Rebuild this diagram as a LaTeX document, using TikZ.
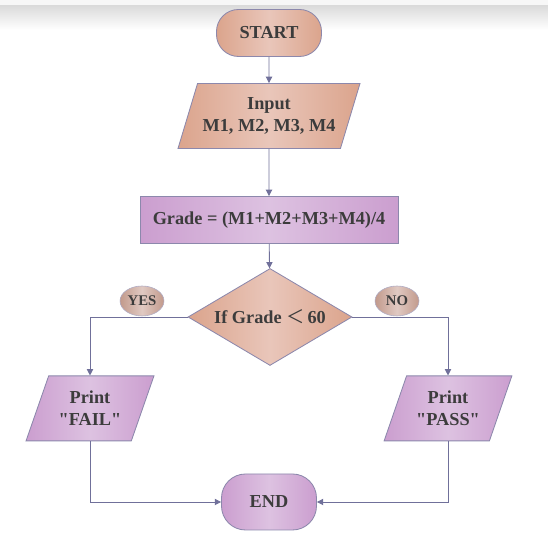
\documentclass[tikz,border=0pt]{standalone}
\usepackage{fontspec}
\newfontfamily\chartfont{Liberation Serif}
\newfontfamily\cjk{Noto Sans CJK SC}
\usepackage{tikz}
\usetikzlibrary{shapes,arrows,positioning,calc,arrows.meta}
\definecolor{peach}{HTML}{DBA48C}
\definecolor{peachlight}{HTML}{E9C6BA}
\definecolor{lilac}{HTML}{CB9ECF}
\definecolor{lilaclight}{HTML}{DDC2E1}
\definecolor{tagbrown}{HTML}{C29A8C}
\definecolor{taglight}{HTML}{E0C9C2}
\definecolor{edgeline}{HTML}{8C88AC}
\definecolor{flowline}{HTML}{70709A}
\definecolor{textgrey}{HTML}{3C3C3C}

\begin{document}
\begin{tikzpicture}[
    font=\chartfont\fontsize{13}{16}\selectfont\bfseries, text=textgrey,
    peachfill/.style={left color=peach, right color=peach, middle color=peachlight},
    lilacfill/.style={left color=lilac, right color=lilac, middle color=lilaclight},
    terminal/.style={rectangle, draw=edgeline, line width=0.6pt},
    io/.style={trapezium, trapezium left angle=64, trapezium right angle=116,
        trapezium stretches=true, draw=edgeline, line width=0.6pt, align=center, inner sep=0pt},
    process/.style={rectangle, draw=edgeline, line width=0.6pt},
    decision/.style={diamond, aspect=1.7, draw=edgeline, line width=0.6pt, inner sep=0pt,
        minimum width=4.1cm, minimum height=2.425cm},
    tag/.style={ellipse, draw=edgeline!70, left color=tagbrown, right color=tagbrown,
        middle color=taglight, minimum width=1.1cm, minimum height=0.75cm, inner sep=0pt,
        font=\chartfont\fontsize{10.5}{12}\selectfont\bfseries},
    flow/.style={draw=flowline, line width=0.6pt, -{Triangle[width=4.5pt,length=4.5pt]}}
]
    \useasboundingbox (0,0) rectangle (13.7,13.55);

    % Top band
    \fill[black!3] (0,13.4) rectangle (13.7,13.55);
    \shade[top color=black!14, bottom color=white] (0,12.8) rectangle (13.7,13.4);

    % Start and input
    \node[terminal, peachfill, rounded corners=0.55cm, minimum width=2.625cm, minimum height=1.175cm] (start) at (6.725,12.725) {START};
    \node[io, peachfill, minimum width=4.55cm, minimum height=1.625cm] (input) at (6.725,10.65) {Input\\M1, M2, M3, M4};

    % Average
    \node[process, lilacfill, minimum width=6.45cm, minimum height=1.175cm] (grade) at (6.725,8.05) {Grade = (M1+M2+M3+M4)/4};

    % Decision
    \node[decision, peachfill] (test) at (6.75,5.625) {If Grade\ {\cjk\mdseries ＜}\,60};
    \node[tag] (yes) at (3.55,6.025) {YES};
    \node[tag] (no) at (9.925,6.025) {NO};

    % Output
    \node[io, lilacfill, minimum width=3.2cm, minimum height=1.625cm] (fail) at (2.25,3.34) {Print\\"FAIL"};
    \node[io, lilacfill, minimum width=3.2cm, minimum height=1.625cm] (pass) at (11.2,3.34) {Print\\"PASS"};
    \node[terminal, lilacfill, rounded corners=0.6cm, minimum width=2.375cm, minimum height=1.4cm] (end) at (6.725,1.0) {END};

    % Connectors
    \draw[flow] (start) -- (input);
    \draw[flow] (input) -- (grade);
    \draw[flow] (grade) -- (test);
    \draw[flow] (test.west) -| (fail.north);
    \draw[flow] (test.east) -| (pass.north);
    \draw[flow] (fail.south) |- (end.west);
    \draw[flow] (pass.south) |- (end.east);
\end{tikzpicture}
\end{document}
